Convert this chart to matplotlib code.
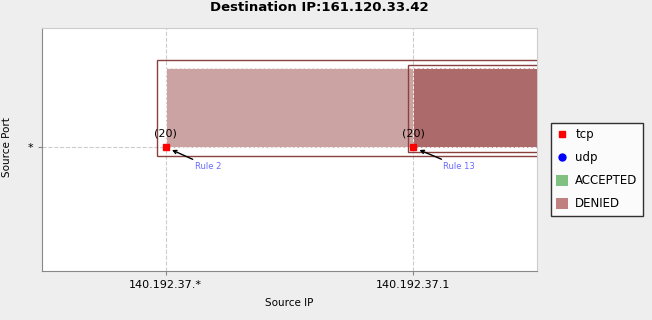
import matplotlib.pyplot as plt
from matplotlib.patches import Rectangle, Patch
from matplotlib.lines import Line2D

# data
title = 'Destination IP:161.120.33.42'
x_labels = ['140.192.37.*', '140.192.37.1']
y_labels = ['*']
rules = ['Rule 2', 'Rule 13']
rule_x = [0, 1]
rule_y = [0, 0]
counts = [20, 20]
protocols = ['tcp', 'tcp']
fill_colors = ['#cca3a3', '#ad6a6a']

fig = plt.figure(figsize=(6.52, 3.2), dpi=100, facecolor='#eeeeee')
ax = fig.add_axes([42 / 652, 1 - 271 / 320, 495 / 652, 243 / 320])
ax.set_facecolor('white')
ax.set_xlim(-0.5, 1.5)
ax.set_ylim(-0.51, 0.49)

for i in range(len(rules)):
    x, y = rule_x[i], rule_y[i]
    pad = 0.037 - 0.015 * i
    # outer rule box
    ax.add_patch(Rectangle((x - 0.037 + 0.015 * i, y - pad), 2.0, 0.358 + pad - 0.022 * i,
                           fill=False, ec='#8b4040', lw=1.0, zorder=3 + i))
    # filled region
    ax.add_patch(Rectangle((x, y), 2.0, 0.325, fc=fill_colors[i],
                           ec='white', ls='--', lw=0.6, zorder=2 + i))
    ax.plot(x, y, 's', color='red', ms=5, zorder=6)
    ax.text(x, y + 0.035, '(%d)' % counts[i], ha='center', va='bottom',
            fontsize=8, zorder=7)
    ax.annotate(rules[i], xy=(x + 0.025, y - 0.012), xytext=(x + 0.12, y - 0.08),
                fontsize=6, color='#6a6aff', ha='left', va='center', zorder=7,
                arrowprops=dict(arrowstyle='->', color='black', lw=1.0,
                                shrinkA=0, shrinkB=0))

ax.set_xticks(rule_x)
ax.set_xticklabels(x_labels, fontsize=8)
ax.set_yticks([0])
ax.set_yticklabels(y_labels, fontsize=8)
ax.tick_params(length=3, color='#888888')
ax.grid(True, ls='--', color='#cccccc', lw=0.8)
ax.set_axisbelow(True)
for s in ['left', 'bottom']:
    ax.spines[s].set_color('#888888')
for s in ['top', 'right']:
    ax.spines[s].set_color('#cccccc')

ax.set_xlabel('Source IP', fontsize=7.5, labelpad=6)
ax.set_ylabel('Source Port', fontsize=7.5)
ax.yaxis.set_label_coords(-0.06, 0.51)

fig.text(0.49, 0.998, title, fontsize=9.5, fontweight='bold', ha='center', va='top')

handles = [
    Line2D([], [], marker='s', color='red', ls='none', ms=5),
    Line2D([], [], marker='o', color='blue', ls='none', ms=5),
    Patch(fc='#80c080'),
    Patch(fc='#c08080'),
]
leg = fig.legend(handles, ['tcp', 'udp', 'ACCEPTED', 'DENIED'],
                 loc='upper left', bbox_to_anchor=(551 / 652, 1 - 123 / 320),
                 fontsize=8.5, frameon=True, fancybox=False, borderaxespad=0,
                 handlelength=1.0, handleheight=1.0, handletextpad=0.6,
                 labelspacing=0.85, borderpad=0.45)
leg.get_frame().set_edgecolor('black')
leg.get_frame().set_linewidth(1.0)

fig.savefig('out.png', dpi=100, facecolor=fig.get_facecolor())
